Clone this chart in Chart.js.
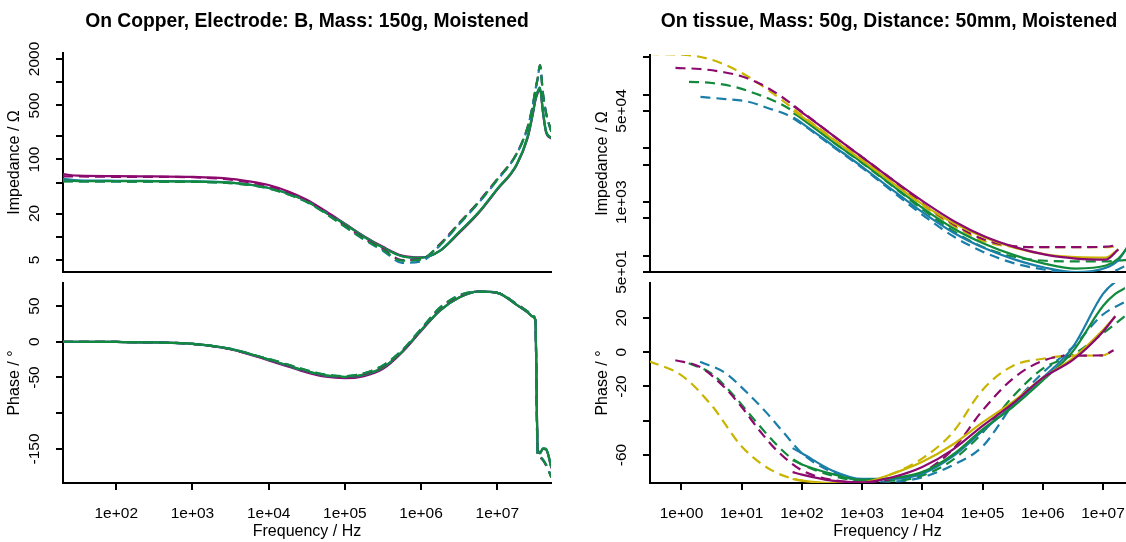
<!DOCTYPE html>
<html>
<head>
<meta charset="utf-8">
<script src="https://cdn.jsdelivr.net/npm/chart.js@4.4.1/dist/chart.umd.min.js"></script>
<style>
html,body{margin:0;padding:0;background:#fff;overflow:hidden;width:1126px;height:542px}
canvas{position:absolute}
</style>
</head>
<body>
<canvas id="copperZ" width="614" height="300" style="left:0;top:0"></canvas>
<canvas id="copperP" width="614" height="282" style="left:0;top:260px"></canvas>
<canvas id="tissueZ" width="570" height="300" style="left:570px;top:0"></canvas>
<canvas id="tissueP" width="570" height="282" style="left:570px;top:260px"></canvas>
<script>

// ===== DATA: COPPER (left column) =====
const copperFreq = [20, 31.6, 100, 316, 1000, 3160, 7080, 1e4, 17800, 31600, 56200, 1e5, 178000, 316000, 562000, 1e6, 1.78e6, 3.16e6, 5.62e6, 1e7, 1.78e7, 2.51e7, 2.95e7, 3.16e7, 3.39e7, 3.63e7, 3.98e7, 4.37e7, 5.13e7]

const copperZSolidPurple = [64.6, 61.7, 61.0, 60.3, 59.6, 56.2, 50.1, 46.8, 38.9, 30.2, 21.4, 14.8, 10.2, 7.41, 5.7, 5.4, 6.61, 11.2, 20.0, 40.7, 83.2, 191, 398, 575, 724, 813, 398, 224, 186]
const copperZSolidTeal = [56.2, 53.7, 53.1, 52.7, 52.2, 50.1, 45.7, 42.7, 36.3, 29.0, 20.6, 14.6, 10.0, 7.24, 5.6, 5.35, 6.61, 11.5, 20.4, 41.7, 85.1, 200, 417, 603, 759, 851, 417, 229, 191]
const copperZSolidGreen = [53.7, 52.5, 52.5, 52.2, 51.9, 50.1, 45.7, 42.7, 36.3, 28.8, 20.4, 14.5, 10.0, 7.24, 5.6, 5.35, 6.61, 11.5, 20.4, 41.7, 85.1, 200, 417, 603, 759, 851, 417, 229, 191]
const copperZDashPurple = [60.3, 60.3, 59.6, 59.6, 58.9, 55.0, 48.5, 45.5, 37.5, 29.5, 20.9, 13.8, 9.5, 6.9, 5.0, 5.1, 8.1, 15.1, 28.0, 56.0, 118, 266, 525, 794, 1122, 1660, 708, 398, 229]
const copperZDashTeal = [52.5, 52.2, 51.9, 51.5, 51.3, 49.5, 45.2, 42.2, 35.5, 28.2, 20.0, 13.5, 9.2, 6.6, 4.6, 4.8, 7.8, 14.5, 27.0, 54.0, 116, 260, 525, 794, 1122, 1620, 708, 398, 229]
const copperZDashGreen = [51.9, 51.9, 51.9, 51.5, 51.3, 49.5, 45.2, 42.2, 35.5, 28.2, 20.0, 13.5, 9.33, 6.76, 4.9, 5.1, 7.94, 14.8, 27.5, 55.0, 117, 263, 525, 794, 1122, 1660, 708, 398, 229]

const copperPSolidPurple = [0, 0, -0.3, -1, -3, -10.5, -21, -26, -34.5, -43, -49, -51, -48, -38, -15, 15, 44, 62, 70, 68.5, 52, 41, 35, 30, -150, -156, -150, -151, -177]
const copperPSolidTeal = [0, 0, -0.3, -1, -3, -10, -20, -25, -33.5, -41.5, -47.5, -49.5, -46.5, -36, -14, 16, 44, 62, 70, 68.5, 52, 41, 35, 30, -150, -156, -149, -150, -176]
const copperPSolidGreen = [0, 0, -0.3, -1, -3, -10, -20, -25, -33, -41, -47, -49, -46, -36, -14, 16, 44, 62, 70, 68.5, 52, 41, 35, 30, -150, -156, -149, -150, -175]
const copperPDashPurple = [0, 0, -0.3, -1, -3, -10.5, -20.5, -25, -33, -41, -47, -49, -45, -34, -13, 17, 47, 64, 70, 68.5, 53, 42, 36, 30, -158, -162, -166, -173, -190]
const copperPDashTeal = [0, 0, -0.3, -1, -3, -10, -20, -24, -32, -40, -46, -48, -44, -33, -12, 18, 48, 65, 70, 68.5, 53, 42, 36, 30, -158, -161, -165, -172, -189]
const copperPDashGreen = [0, 0, -0.3, -1, -3, -10, -20, -24, -32, -40, -46, -48, -44, -33, -12, 18, 48, 65, 70, 68.5, 53, 42, 36, 30, -158, -162, -165, -172, -190]

// ===== DATA: TISSUE (right column) =====
const tissueFreqSolid = [70, 100, 316, 1000, 3160, 1e4, 31600, 1e5, 316000, 1e6, 3.16e6, 1e7, 1.6e7, 2.5e7]
const tissueFreqDashYellow = [0.29, 1, 3.16, 10, 31.6, 100, 316, 1000, 3160, 1e4, 31600, 1e5, 316000, 1e6, 3.16e6, 1e7, 1.5e7]
const tissueFreqDashPurple = [0.79, 2, 5, 10, 20, 40, 100, 316, 1000, 3160, 1e4, 31600, 1e5, 316000, 1e6, 3.16e6, 1e7, 1.5e7]
const tissueFreqDashGreen = [1.32, 3.16, 7.94, 15.8, 31.6, 57.5, 100, 316, 1000, 3160, 1e4, 31600, 1e5, 316000, 1e6, 3.16e6, 1e7, 2.5e7]
const tissueFreqDashTeal = [2.04, 5.25, 12.6, 26.9, 51.3, 100, 316, 1000, 3160, 1e4, 31600, 1e5, 316000, 1e6, 3.16e6, 1e7, 2.5e7]

const tissueZSolidPurple = [61660, 45710, 17380, 6607, 2512, 1000, 437, 229, 145, 105, 89, 85, 132, null]
const tissueZSolidYellow = [50120, 38020, 14790, 5754, 2188, 871, 398, 219, 141, 107, 95, 93, 132, null]
const tissueZSolidGreen = [45710, 34670, 13180, 5248, 1950, 741, 316, 166, 102, 71, 58, 66, 89, 166]
const tissueZSolidTeal = [38020, 28840, 11220, 4365, 1622, 617, 263, 138, 85, 60, 50, 60, 83, 178]
const tissueZDashYellow = [575400, 562300, 446700, 251200, 107200, 39810, 15140, 5888, 2239, 832, 355, 186, 148, 145, 145, 145, 151]
const tissueZDashPurple = [316200, 302000, 263000, 218800, 158500, 100000, 46770, 17380, 6607, 2512, 891, 380, 200, 151, 145, 145, 148, 158]
const tissueZDashGreen = [173800, 166000, 138000, 107200, 79430, 56230, 36310, 13180, 5129, 1905, 692, 282, 141, 95, 81, 79, 79, 85]
const tissueZDashTeal = [91200, 83180, 74130, 56230, 43650, 27540, 10720, 4169, 1514, 550, 224, 115, 72, 55, 47, 48, 71]

const tissuePSolidPurple = [-70, -71.5, -75, -76, -73, -67, -57, -43, -30, -15, -4.5, 12, 21, null]
const tissuePSolidYellow = [-74, -75, -76.5, -76, -71, -64, -54, -41, -29, -15, -3.5, 13, 21, null]
const tissuePSolidGreen = [-63, -65.5, -71, -74.5, -73.5, -70, -60, -45, -32, -16.5, 0.5, 27, 34, 38]
const tissuePSolidTeal = [-56, -59, -69, -74, -74, -71, -61, -46, -31, -15, 3, 34, 41, 44]
const tissuePDashYellow = [-5.3, -13.5, -31, -55, -69, -75, -76.5, -76, -71, -62, -47, -22, -8, -3.8, -2, -1.8, 1.2]
const tissuePDashPurple = [-4.7, -8.5, -20, -32, -46, -58, -69, -74.5, -76, -74, -70, -57, -34, -15.5, -5, -2, -1.8, 1.2]
const tissuePDashGreen = [-6.4, -12.5, -26.5, -39, -51, -60, -65.5, -72, -75, -75, -72, -63, -47, -26, -9.6, -1.5, 11, 22]
const tissuePDashTeal = [-5.6, -12, -24, -36, -47.5, -59, -70, -75, -75.5, -73, -66, -55, -31, -12, 3, 22, 30]

// ===== TICKS =====
const copperXTicks = [1e2, 1e3, 1e4, 1e5, 1e6, 1e7]
const tissueXTicks = [1, 10, 100, 1e3, 1e4, 1e5, 1e6, 1e7]
const copperZTicks = [5, 10, 20, 50, 100, 200, 500, 1000, 2000]
const copperZLabels = [5, 20, 100, 500, 2000]
const copperPTicks = [-150, -100, -50, 0, 50]
const copperPLabels = [-150, -50, 0, 50]
const tissueZTicks = [50, 100, 500, 1000, 5000, 1e4, 5e4, 1e5, 5e5]
const tissueZLabels = [50, 1000, 50000]
const tissuePTicks = [-60, -40, -20, 0, 20]
const tissuePLabels = [-60, -20, 0, 20]

const PURPLE = "#8C0A6E"
const TEAL = "#1A7EA8"
const GREEN = "#128A3C"
const YELLOW = "#C9B400"
const FONT = '"Liberation Sans", Arial, Helvetica, sans-serif'
const FS = 15.5
const FT = 16


// ===== HELPERS =====
function sci(v){
const e = Math.floor(Math.log10(v) + 1e-9)
const m = Math.round(v / Math.pow(10, e))
return m + "e" + (e < 0 ? "-" : "+") + String(Math.abs(e)).padStart(2, "0")
}

function line(freq, vals, color, dashed){
const data = []
freq.forEach((f, i) => { if(vals[i] != null) data.push({x: f, y: vals[i]}) })
return {
data,
borderColor: color,
borderWidth: 2.2,
borderDash: dashed ? [10, 6] : [],
pointRadius: 0,
cubicInterpolationMode: "monotone",
fill: false
}
}

// rotated y tick labels, as R draws them
const yLabelPlugin = {
id: "yLabels",
afterDraw(chart, args, opts){
const s = chart.scales.y
const ctx = chart.ctx
ctx.save()
ctx.font = FS + "px " + FONT
ctx.fillStyle = "#000"
ctx.textAlign = "center"
ctx.textBaseline = "middle"
opts.values.forEach((v, i) => {
ctx.save()
ctx.translate(chart.chartArea.left - 28, s.getPixelForValue(v))
ctx.rotate(-Math.PI / 2)
ctx.fillText(opts.texts[i], 0, 0)
ctx.restore()
})
ctx.restore()
}
}

function xScale(min, max, ticks, bottom){
return {
type: "logarithmic", min, max,
afterBuildTicks: s => { s.ticks = ticks.map(v => ({value: v})) },
afterFit: s => { s.height = bottom ? 59 : 0 },
ticks: {display: bottom, autoSkip: false, maxRotation: 0, padding: 14.7, color: "#000",
font: {family: FONT, size: FS}, callback: v => sci(v)},
grid: {display: bottom, drawOnChartArea: false, drawTicks: true, tickLength: 7, lineWidth: 2, color: "#000"},
border: {display: true, color: "#000", width: 2},
title: {display: bottom, text: "Frequency / Hz", color: "#000", font: {family: FONT, size: FT}, padding: {top: 0, bottom: 0.4}}
}
}

function yScale(type, min, max, ticks, title, width, titlePad){
return {
type, min, max,
afterBuildTicks: s => { s.ticks = ticks.map(v => ({value: v})) },
afterFit: s => { s.width = width },
ticks: {display: false},
grid: {drawOnChartArea: false, drawTicks: true, tickLength: 7, lineWidth: 2, color: "#000"},
border: {display: true, color: "#000", width: 2},
title: {display: true, text: title, color: "#000", font: {family: FONT, size: FT}, padding: {top: titlePad, bottom: 0}}
}
}

function panel(id, datasets, x, y, padding, title, labels){
const titleOpts = title
? {display: true, text: title.text, fullSize: false, color: "#000",
   font: {family: FONT, size: 19.3, weight: "bold"}, padding: {top: 10.4, bottom: title.gap}}
: {display: false}
return new Chart(document.getElementById(id), {
type: "line",
data: {datasets},
options: {
responsive: false,
animation: false,
layout: {padding},
scales: {x, y},
plugins: {
legend: {display: false},
tooltip: {enabled: false},
title: titleOpts,
yLabels: labels
}
},
plugins: [yLabelPlugin]
})
}


// ===== COPPER IMPEDANCE =====
panel("copperZ", [
line(copperFreq, copperZDashGreen, GREEN, true),
line(copperFreq, copperZDashTeal, TEAL, true),
line(copperFreq, copperZDashPurple, PURPLE, true),
line(copperFreq, copperZSolidGreen, GREEN, false),
line(copperFreq, copperZSolidTeal, TEAL, false),
line(copperFreq, copperZSolidPurple, PURPLE, false)
],
xScale(20, 5.07e7, copperXTicks, false),
yScale("logarithmic", 3.5, 2390, copperZTicks, "Impedance / \u03A9", 63, 5.4),
{left: 0, right: 63, top: 0, bottom: 28},
{text: "On Copper, Electrode: B, Mass: 150g, Moistened", gap: 19.4},
{values: copperZLabels, texts: copperZLabels.map(String)}
)

// ===== COPPER PHASE =====
panel("copperP", [
line(copperFreq, copperPDashGreen, GREEN, true),
line(copperFreq, copperPDashTeal, TEAL, true),
line(copperFreq, copperPDashPurple, PURPLE, true),
line(copperFreq, copperPSolidGreen, GREEN, false),
line(copperFreq, copperPSolidTeal, TEAL, false),
line(copperFreq, copperPSolidPurple, PURPLE, false)
],
xScale(20, 5.07e7, copperXTicks, true),
yScale("linear", -197.6, 82.2, copperPTicks, "Phase / \u00B0", 63, 5.4),
{left: 0, right: 63, top: 23, bottom: 0},
null,
{values: copperPLabels, texts: copperPLabels.map(String)}
)

// ===== TISSUE IMPEDANCE =====
panel("tissueZ", [
line(tissueFreqSolid, tissueZSolidPurple, PURPLE, false),
line(tissueFreqSolid, tissueZSolidYellow, YELLOW, false),
line(tissueFreqSolid, tissueZSolidGreen, GREEN, false),
line(tissueFreqSolid, tissueZSolidTeal, TEAL, false),
line(tissueFreqDashPurple, tissueZDashPurple, PURPLE, true),
line(tissueFreqDashYellow, tissueZDashYellow, YELLOW, true),
line(tissueFreqDashGreen, tissueZDashGreen, GREEN, true),
line(tissueFreqDashTeal, tissueZDashTeal, TEAL, true)
],
xScale(0.308, 2.31e7, tissueXTicks, false),
yScale("logarithmic", 50, 5.52e5, tissueZTicks, "Impedance / \u03A9", 80, 23.4),
{left: 0, right: 12, top: 0, bottom: 28},
{text: "On tissue, Mass: 50g, Distance: 50mm, Moistened", gap: 21.4},
{values: tissueZLabels, texts: tissueZLabels.map(sci)}
)

// ===== TISSUE PHASE =====
panel("tissueP", [
line(tissueFreqSolid, tissuePSolidPurple, PURPLE, false),
line(tissueFreqSolid, tissuePSolidYellow, YELLOW, false),
line(tissueFreqSolid, tissuePSolidGreen, GREEN, false),
line(tissueFreqSolid, tissuePSolidTeal, TEAL, false),
line(tissueFreqDashPurple, tissuePDashPurple, PURPLE, true),
line(tissueFreqDashYellow, tissuePDashYellow, YELLOW, true),
line(tissueFreqDashGreen, tissuePDashGreen, GREEN, true),
line(tissueFreqDashTeal, tissuePDashTeal, TEAL, true)
],
xScale(0.308, 2.31e7, tissueXTicks, true),
yScale("linear", -76.35, 40.4, tissuePTicks, "Phase / \u00B0", 80, 23.4),
{left: 0, right: 12, top: 23, bottom: 0},
null,
{values: tissuePLabels, texts: tissuePLabels.map(String)}
)
</script>
</body>
</html>
